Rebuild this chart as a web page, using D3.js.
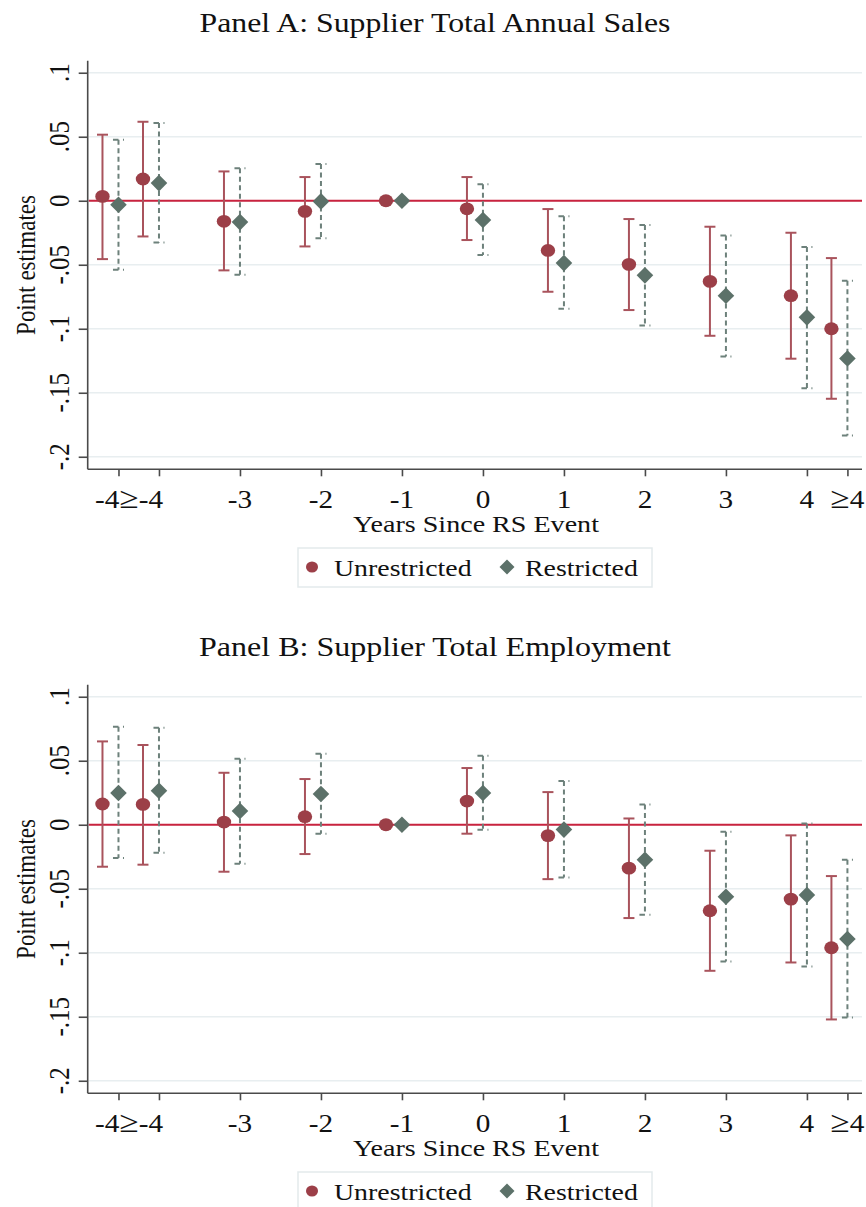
<!DOCTYPE html>
<html>
<head>
<meta charset="utf-8">
<script src="https://cdn.jsdelivr.net/npm/d3@7"></script>
<style>
  html, body { margin: 0; padding: 0; background: #fff; }
  svg { display: block; }
  text { font-family: "Liberation Serif", "Times New Roman", serif; fill: #111; }
</style>
</head>
<body>
<svg id="chart" width="866" height="1207"></svg>
<script>
// ---------- data ----------
const positions = [-4.5, -4, -3, -2, -1, 0, 1, 2, 3, 4, 4.5];
const tickLabels = ["-4", "\u2265-4", "-3", "-2", "-1", "0", "1", "2", "3", "4", "\u22654"];
const yTicks = [0.1, 0.05, 0, -0.05, -0.1, -0.15, -0.2];
const yTickLabels = [".1", ".05", "0", "-.05", "-.1", "-.15", "-.2"];
const seriesNames = ["Unrestricted", "Restricted"];
const panelTitles = ["Panel A: Supplier Total Annual Sales", "Panel B: Supplier Total Employment"];
const xAxisTitle = "Years Since RS Event";
const yAxisTitle = "Point estimates";

// Panel A
const aUnrEst = [0.0034, 0.017, -0.0161, -0.0083, 0, -0.0063, -0.0388, -0.0497, -0.063, -0.0742, -0.1];
const aUnrLo  = [-0.0456, -0.0279, -0.0544, -0.0357, null, -0.0307, -0.0711, -0.0854, -0.1055, -0.1234, -0.1547];
const aUnrHi  = [0.0516, 0.0617, 0.0229, 0.0185, null, 0.0185, -0.0065, -0.0143, -0.0203, -0.025, -0.0448];
const aResEst = [-0.0031, 0.0138, -0.0167, -0.0005, 0, -0.0151, -0.0487, -0.0583, -0.0742, -0.0911, -0.1232];
const aResLo  = [-0.054, -0.0326, -0.0578, -0.0294, null, -0.0424, -0.0844, -0.0974, -0.1216, -0.1464, -0.1833];
const aResHi  = [0.0477, 0.0607, 0.0253, 0.0287, null, 0.0128, -0.0122, -0.019, -0.0271, -0.0362, -0.0625];

// Panel B
const bUnrEst = [0.0162, 0.0159, 0.0021, 0.0063, 0, 0.0185, -0.0085, -0.0339, -0.0672, -0.0581, -0.0961];
const bUnrLo  = [-0.0328, -0.0312, -0.0367, -0.0229, null, -0.007, -0.0425, -0.0729, -0.1141, -0.1076, -0.1521];
const bUnrHi  = [0.0651, 0.0623, 0.0406, 0.0357, null, 0.0443, 0.0255, 0.0049, -0.0203, -0.0083, -0.0401];
const bResEst = [0.0248, 0.0266, 0.0107, 0.024, 0, 0.0248, -0.0038, -0.0273, -0.0563, -0.0549, -0.0893];
const bResLo  = [-0.026, -0.0219, -0.0305, -0.007, null, -0.0039, -0.0412, -0.0703, -0.1068, -0.1107, -0.1505];
const bResHi  = [0.0766, 0.0758, 0.0516, 0.0555, null, 0.0539, 0.0342, 0.0159, -0.0055, 0.001, -0.0273];

const panels = [
  { title: panelTitles[0], unr: [aUnrEst, aUnrLo, aUnrHi], res: [aResEst, aResLo, aResHi] },
  { title: panelTitles[1], unr: [bUnrEst, bUnrLo, bUnrHi], res: [bResEst, bResLo, bResHi] }
];

// ---------- style ----------
const C = {
  unr: "#9c3f48", unrCI: "#a9535c",
  res: "#5c7169", resCI: "#6d817b",
  zero: "#c9233f", grid: "#e8eef0", axis: "#4a4a4a",
  legendBorder: "#e3eaec"
};
const SX = 1.17; // horizontal stretch of text as in the reference

const svg = d3.select("#chart");

function stext(g, x, y, str, size, anchor, sx, rotate) {
  let tr = `translate(${x},${y}) scale(${sx},1)` + (rotate ? ` rotate(${rotate})` : "");
  const t = g.append("text").attr("transform", tr).attr("text-anchor", anchor)
    .attr("font-size", size);
  if (str.startsWith("\u2265")) {
    t.append("tspan").attr("font-size", size * 1.2).text("\u2265");
    t.append("tspan").text(str.slice(1));
  } else {
    t.text(str);
  }
  return t;
}

const x = d3.scaleLinear().domain([-4.88, 4.68]).range([87.7, 862]);

panels.forEach((p, i) => {
  const off = i * 624;
  const g = svg.append("g").attr("transform", `translate(0,${off})`);
  const y = d3.scaleLinear().domain([-0.2098, 0.1094]).range([469.3, 60.7]);
  const left = 87.7, right = 862;

  // title
  g.append("text").attr("x", 435).attr("y", 32).attr("text-anchor", "middle")
    .attr("font-size", 28).attr("textLength", i === 0 ? 471 : 472).attr("lengthAdjust", "spacingAndGlyphs")
    .text(p.title);

  // gridlines
  g.append("g").selectAll("line").data(yTicks).join("line")
    .attr("x1", left + 1).attr("x2", right)
    .attr("y1", d => y(d)).attr("y2", d => y(d))
    .attr("stroke", C.grid).attr("stroke-width", 1.6);

  // zero line
  g.append("line").attr("x1", left + 1).attr("x2", right)
    .attr("y1", y(0)).attr("y2", y(0))
    .attr("stroke", C.zero).attr("stroke-width", 2);

  // y axis
  const yAxis = d3.axisLeft(y).tickValues(yTicks).tickSize(9).tickFormat("");
  const ya = g.append("g").attr("transform", `translate(${left},0)`).call(yAxis);
  ya.select(".domain").attr("stroke", C.axis).attr("stroke-width", 1.6).attr("d", `M-0,${y.range()[1]}V${y.range()[0]}`);
  ya.selectAll(".tick line").attr("stroke", C.axis).attr("stroke-width", 1.6);
  yTicks.forEach((t, k) => stext(g, 69, y(t), yTickLabels[k], 25, "middle", SX, -90));

  // x axis
  const xAxis = d3.axisBottom(x).tickValues(positions).tickSize(7).tickFormat("");
  const xa = g.append("g").attr("transform", `translate(0,469.3)`).call(xAxis);
  xa.select(".domain").attr("stroke", C.axis).attr("stroke-width", 1.6).attr("d", `M${left},0H${right}`);
  xa.selectAll(".tick line").attr("stroke", C.axis).attr("stroke-width", 1.6);
  positions.forEach((v, k) => {
    if (k === 0) stext(g, x(v) + 1, 508, tickLabels[k], 25, "end", SX);
    else if (k === 1) stext(g, x(v) - 39.5, 508, tickLabels[k], 25, "start", SX);
    else stext(g, x(v), 508, tickLabels[k], 25, "middle", SX);
  });

  // axis titles
  stext(g, 476, 532, xAxisTitle, 24, "middle", SX);
  stext(g, 35, 265, yAxisTitle, 23, "middle", SX, -90);

  // CIs
  const [uE, uL, uH] = p.unr;
  const [rE, rL, rH] = p.res;
  const uOff = -16, rOff = 0;
  const ciU = g.append("g").attr("stroke", C.unrCI).attr("stroke-width", 2).attr("fill", "none");
  positions.forEach((v, k) => {
    if (uL[k] == null) return;
    const cx = x(v) + uOff;
    ciU.append("line").attr("x1", cx).attr("x2", cx).attr("y1", y(uH[k])).attr("y2", y(uL[k]));
    ciU.append("line").attr("x1", cx - 5.5).attr("x2", cx + 5.5).attr("y1", y(uH[k])).attr("y2", y(uH[k]));
    ciU.append("line").attr("x1", cx - 5.5).attr("x2", cx + 5.5).attr("y1", y(uL[k])).attr("y2", y(uL[k]));
  });
  const ciR = g.append("g").attr("stroke", C.resCI).attr("stroke-width", 2).attr("fill", "none");
  positions.forEach((v, k) => {
    if (rL[k] == null) return;
    const cx = x(v) + rOff;
    ciR.append("line").attr("x1", cx).attr("x2", cx).attr("y1", y(rH[k])).attr("y2", y(rL[k]))
      .attr("stroke-dasharray", "5,3.5");
    ciR.append("line").attr("x1", cx - 5.5).attr("x2", cx + 5.5).attr("y1", y(rH[k])).attr("y2", y(rH[k]))
      .attr("stroke-dasharray", "5.5,4.5");
    ciR.append("line").attr("x1", cx - 5.5).attr("x2", cx + 5.5).attr("y1", y(rL[k])).attr("y2", y(rL[k]))
      .attr("stroke-dasharray", "5.5,4.5");
  });

  // markers
  g.append("g").selectAll("ellipse").data(positions).join("ellipse")
    .attr("cx", (v) => x(v) + uOff).attr("cy", (v, k) => y(uE[k]))
    .attr("rx", 7.2).attr("ry", 6.4).attr("fill", C.unr);
  g.append("g").selectAll("path").data(positions).join("path")
    .attr("d", (v, k) => {
      const cx = x(v) + rOff, cy = y(rE[k]), h = 8.3;
      return `M${cx},${cy - h}L${cx + h},${cy}L${cx},${cy + h}L${cx - h},${cy}Z`;
    })
    .attr("fill", C.res);

  // legend
  const lg = g.append("g");
  lg.append("rect").attr("x", 298).attr("y", 548).attr("width", 354).attr("height", 39)
    .attr("fill", "#fff").attr("stroke", C.legendBorder).attr("stroke-width", 1.5);
  lg.append("ellipse").attr("cx", 312).attr("cy", 567).attr("rx", 6).attr("ry", 5.5).attr("fill", C.unr);
  stext(lg, 334, 576, seriesNames[0], 24, "start", 1.16);
  lg.append("path").attr("d", `M507,${567 - 7.5}L${507 + 7.5},567L507,${567 + 7.5}L${507 - 7.5},567Z`).attr("fill", C.res);
  stext(lg, 525, 576, seriesNames[1], 24, "start", 1.16);
});
</script>
</body>
</html>
